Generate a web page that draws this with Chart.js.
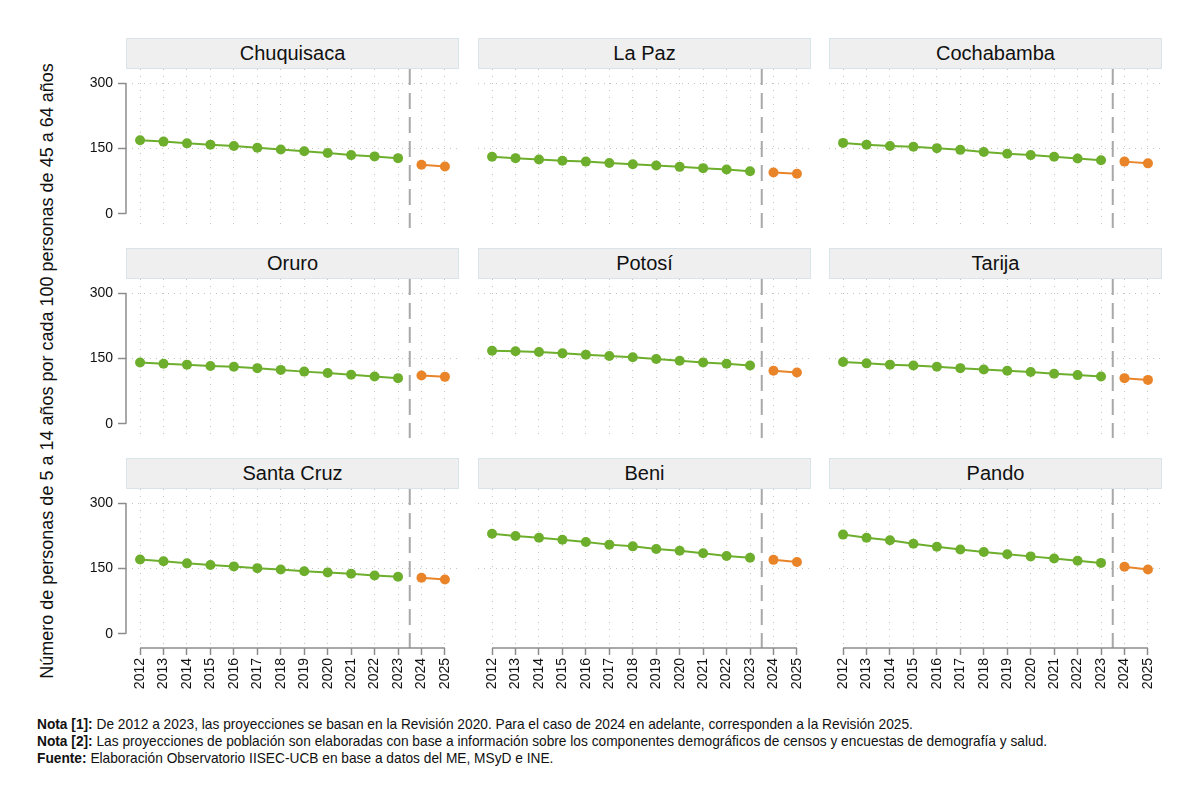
<!DOCTYPE html>
<html>
<head>
<meta charset="utf-8">
<script src="https://cdn.jsdelivr.net/npm/chart.js@4.4.1/dist/chart.umd.min.js"></script>
<style>
  html, body { margin: 0; padding: 0; background: #fff; }
  body { width: 1200px; height: 801px; position: relative; overflow: hidden; font-family: "Liberation Sans", Arial, sans-serif; }
  .strip { position: absolute; box-sizing: border-box; background: #efefef; border: 1px solid #d8e4e9;
           font-size: 20px; color: #111; text-align: center; line-height: 29px; }
  canvas { position: absolute; }
  .ytitle { position: absolute; left: 47px; top: 371px; transform: translate(-50%, -50%) rotate(-90deg);
            white-space: nowrap; font-size: 18px; color: #111; }
  .notes { position: absolute; left: 37px; top: 715px; font-family: "Liberation Sans Narrow", "Liberation Sans", Arial, sans-serif;
           font-size: 15px; line-height: 17px; color: #111; white-space: nowrap;
           transform: scaleX(0.915); transform-origin: 0 0; }
  .notes b { font-weight: bold; }
</style>
</head>
<body>
<div class="ytitle">Número de personas de 5 a 14 años por cada 100 personas de 45 a 64 años</div>
<div class="notes">
  <div><b>Nota [1]:</b> De 2012 a 2023, las proyecciones se basan en la Revisión 2020. Para el caso de 2024 en adelante, corresponden a la Revisión 2025.</div>
  <div><b>Nota [2]:</b> Las proyecciones de población son elaboradas con base a información sobre los componentes demográficos de censos y encuestas de demografía y salud.</div>
  <div><b>Fuente:</b> Elaboración Observatorio IISEC-UCB en base a datos del ME, MSyD e INE.</div>
</div>
<script>
// ---- DATA ----
const yearsR2020 = [2012, 2013, 2014, 2015, 2016, 2017, 2018, 2019, 2020, 2021, 2022, 2023];
const yearsR2025 = [2024, 2025];
const xTickYears = [2012, 2013, 2014, 2015, 2016, 2017, 2018, 2019, 2020, 2021, 2022, 2023, 2024, 2025];
const yTickValues = [0, 150, 300];
const departments = ["Chuquisaca", "La Paz", "Cochabamba", "Oruro", "Potosí", "Tarija", "Santa Cruz", "Beni", "Pando"];

const chuquisacaR2020 = [169, 166, 162, 159, 156, 152, 148, 144, 140, 135, 132, 128];
const chuquisacaR2025 = [113, 109];
const laPazR2020 = [131, 128, 125, 122, 120, 117, 114, 111, 108, 105, 102, 98];
const laPazR2025 = [95, 92];
const cochabambaR2020 = [163, 159, 156, 154, 151, 147, 142, 138, 135, 131, 127, 123];
const cochabambaR2025 = [120, 116];
const oruroR2020 = [141, 138, 136, 133, 131, 128, 124, 120, 117, 113, 109, 105];
const oruroR2025 = [111, 108];
const potosiR2020 = [168, 167, 165, 162, 159, 156, 153, 149, 145, 141, 138, 134];
const potosiR2025 = [122, 118];
const tarijaR2020 = [142, 139, 136, 134, 131, 128, 125, 122, 119, 115, 112, 109];
const tarijaR2025 = [105, 101];
const santaCruzR2020 = [171, 167, 162, 158, 155, 151, 148, 144, 141, 138, 134, 131];
const santaCruzR2025 = [129, 125];
const beniR2020 = [230, 225, 221, 216, 211, 205, 201, 195, 191, 185, 179, 175];
const beniR2025 = [170, 165];
const pandoR2020 = [228, 221, 215, 207, 200, 194, 188, 183, 178, 173, 168, 163];
const pandoR2025 = [154, 148];

const seriesR2020 = [chuquisacaR2020, laPazR2020, cochabambaR2020, oruroR2020, potosiR2020, tarijaR2020, santaCruzR2020, beniR2020, pandoR2020];
const seriesR2025 = [chuquisacaR2025, laPazR2025, cochabambaR2025, oruroR2025, potosiR2025, tarijaR2025, santaCruzR2025, beniR2025, pandoR2025];

// ---- LAYOUT ----
const colLeft = [126, 478, 829];
const rowTop = [38, 248, 458];
const stripH = 31;
const plotW = 333;
const plotH = 159;
const yAxisW = 60;
const xAxisH = 62;
const GREEN = '#6dae2c';
const ORANGE = '#ea8429';

const decorPlugin = {
  id: 'decor',
  beforeDatasetsDraw(chart, args, opts) {
    const ctx = chart.ctx;
    const x = chart.scales.x, y = chart.scales.y, a = chart.chartArea;
    ctx.save();
    // dashed separator between revisions
    const xs = x.getPixelForValue(2023.5);
    ctx.strokeStyle = '#a8a8a8';
    ctx.lineWidth = 2;
    ctx.setLineDash([16, 8]);
    ctx.beginPath();
    ctx.moveTo(xs, a.top);
    ctx.lineTo(xs, a.bottom);
    ctx.stroke();
    ctx.setLineDash([]);
    ctx.strokeStyle = '#8c8c8c';
    ctx.lineWidth = 1.5;
    if (opts.yLine) {
      ctx.beginPath();
      ctx.moveTo(a.left, y.getPixelForValue(yTickValues[yTickValues.length - 1]));
      ctx.lineTo(a.left, y.getPixelForValue(yTickValues[0]));
      ctx.stroke();
    }
    if (opts.xLine) {
      ctx.beginPath();
      ctx.moveTo(x.getPixelForValue(xTickYears[0]), a.bottom);
      ctx.lineTo(x.getPixelForValue(xTickYears[xTickYears.length - 1]), a.bottom);
      ctx.stroke();
    }
    ctx.restore();
  }
};

departments.forEach((name, i) => {
  const col = i % 3, row = Math.floor(i / 3);
  const left = colLeft[col], top = rowTop[row];
  const strip = document.createElement('div');
  strip.className = 'strip';
  strip.style.left = left + 'px';
  strip.style.top = top + 'px';
  strip.style.width = plotW + 'px';
  strip.style.height = stripH + 'px';
  strip.textContent = name;
  document.body.appendChild(strip);

  const showY = col === 0;
  const showX = row === 2;
  const cw = yAxisW + plotW + 12;
  const ch = plotH + (showX ? xAxisH : 0) + 4;
  const canvas = document.createElement('canvas');
  canvas.style.left = (left - yAxisW) + 'px';
  canvas.style.top = (top + stripH) + 'px';
  canvas.style.width = cw + 'px';
  canvas.style.height = ch + 'px';
  canvas.width = cw; canvas.height = ch;
  document.body.appendChild(canvas);

  new Chart(canvas, {
    type: 'line',
    data: {
      datasets: [
        { data: yearsR2020.map((yr, k) => ({ x: yr, y: seriesR2020[i][k] })),
          borderColor: GREEN, backgroundColor: GREEN, borderWidth: 2, pointRadius: 5, pointBorderWidth: 0,
          pointBackgroundColor: GREEN, clip: false },
        { data: yearsR2025.map((yr, k) => ({ x: yr, y: seriesR2025[i][k] })),
          borderColor: ORANGE, backgroundColor: ORANGE, borderWidth: 2, pointRadius: 5, pointBorderWidth: 0,
          pointBackgroundColor: ORANGE, clip: false }
      ]
    },
    options: {
      responsive: false,
      animation: false,
      events: [],
      layout: { autoPadding: false, padding: { left: 0, right: 12, top: 0, bottom: ch - plotH - (showX ? xAxisH : 0) } },
      plugins: { legend: { display: false }, tooltip: { enabled: false }, decor: { yLine: showY, xLine: showX } },
      scales: {
        x: {
          type: 'linear', min: 2011.4, max: 2025.6,
          afterBuildTicks: s => { s.ticks = xTickYears.map(v => ({ value: v })); },
          afterFit: s => { s.height = showX ? xAxisH : 0; s.paddingLeft = 0; s.paddingRight = 0; s.paddingTop = 0; s.paddingBottom = 0; },
          border: { display: false, dash: [1, 6] },
          grid: { color: '#c4c4c4', lineWidth: 1, drawTicks: showX, tickLength: 7, tickColor: '#8c8c8c', tickWidth: 1.5 },
          ticks: { display: showX, minRotation: 90, maxRotation: 90, autoSkip: false, padding: 3,
                   color: '#111', font: { family: '"Liberation Sans", Arial, sans-serif', size: 14 },
                   callback: v => String(v) }
        },
        y: {
          min: -32.5, max: 332.8,
          afterBuildTicks: s => { s.ticks = yTickValues.map(v => ({ value: v })); },
          afterFit: s => { s.width = yAxisW; s.paddingTop = 0; s.paddingBottom = 0; s.paddingLeft = 0; s.paddingRight = 0; },
          border: { display: false, dash: [1, 5] },
          grid: { color: c => (c.tick && c.tick.value === 0) ? 'rgba(0,0,0,0)' : '#c4c4c4', lineWidth: 1,
                  drawTicks: showY, tickLength: 8, tickColor: '#8c8c8c', tickWidth: 1.5 },
          ticks: { display: showY, padding: 5, color: '#111',
                   font: { family: '"Liberation Sans", Arial, sans-serif', size: 14 },
                   callback: v => String(v) }
        }
      }
    },
    plugins: [decorPlugin]
  });
});
</script>
</body>
</html>
